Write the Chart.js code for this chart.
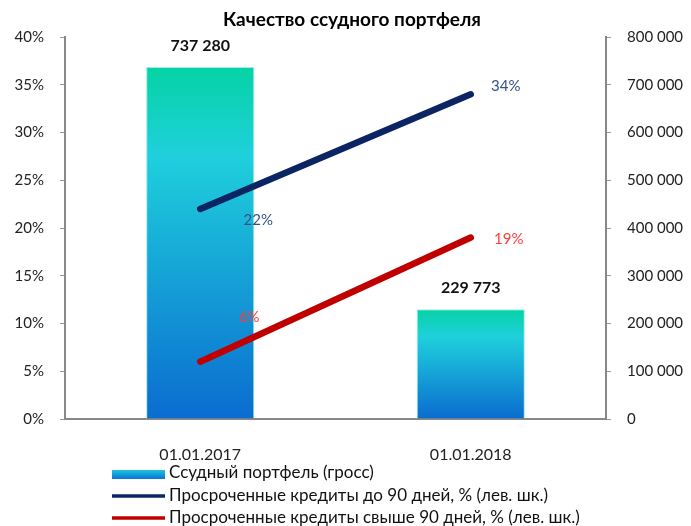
<!DOCTYPE html>
<html>
<head>
<meta charset="utf-8">
<script src="https://cdn.jsdelivr.net/npm/chart.js@4.4.1/dist/chart.umd.min.js"></script>
<style>
  body { margin: 0; background: #fff; }
  #wrap { width: 691px; height: 526px; }
</style>
</head>
<body>
<div id="wrap"><canvas id="chart"></canvas></div>
<script>
const categories = ['01.01.2017', '01.01.2018'];
const portfolio = [737280, 229773];
const overdueTo90 = [22, 34];
const overdueOver90 = [6, 19];
const seriesNames = [
    'Ссудный портфель (гросс)',
    'Просроченные кредиты до 90 дней, % (лев. шк.)',
    'Просроченные кредиты свыше 90 дней, % (лев. шк.)'
];
const leftTicks = [0, 5, 10, 15, 20, 25, 30, 35, 40];
const rightTicks = [0, 100000, 200000, 300000, 400000, 500000, 600000, 700000, 800000];

const FONT = 'Lato, "Open Sans", sans-serif';
const NAVY = '#0b2462';
const RED = '#c00000';

function fmtThousands(v) {
    return String(v).replace(/\B(?=(\d{3})+(?!\d))/g, ' ');
}

function barFill(context) {
    const chart = context.chart;
    if (!chart.chartArea || context.dataIndex === undefined) return '#1ccbdf';
    const y2 = chart.scales.y2;
    const top = y2.getPixelForValue(portfolio[context.dataIndex]);
    const bottom = y2.getPixelForValue(0);
    const g = chart.ctx.createLinearGradient(0, top, 0, bottom);
    g.addColorStop(0, '#05d3a4');
    g.addColorStop(0.25, '#1fd0dc');
    g.addColorStop(1, '#0a6cd0');
    return g;
}

// offsets of the value labels next to line points, as Excel placed them
const lineLabelOffsets = [
    [[58, 11], [35, -8]],
    [[49, -45], [38, 2]]
];

const labelsPlugin = {
    id: 'labels',
    afterDatasetsDraw(chart) {
        const ctx = chart.ctx;
        ctx.save();
        ctx.textAlign = 'center';
        ctx.textBaseline = 'middle';

        // bar values
        ctx.font = 'bold 16px ' + FONT;
        ctx.fillStyle = '#111';
        chart.getDatasetMeta(0).data.forEach((bar, i) => {
            ctx.fillText(fmtThousands(portfolio[i]), bar.x, bar.y - 21);
        });

        // line values
        ctx.font = '15px ' + FONT;
        [[1, overdueTo90, '#34508c'], [2, overdueOver90, '#ff3b3b']].forEach(([di, vals, col], k) => {
            ctx.fillStyle = col;
            chart.getDatasetMeta(di).data.forEach((pt, i) => {
                const off = lineLabelOffsets[k][i];
                ctx.fillText(vals[i] + '%', pt.x + off[0], pt.y + off[1]);
            });
        });
        ctx.restore();
    },
    afterDraw(chart) {
        const ctx = chart.ctx;
        ctx.save();
        // title
        ctx.font = 'bold 19px ' + FONT;
        ctx.fillStyle = '#000';
        ctx.textAlign = 'center';
        ctx.textBaseline = 'middle';
        ctx.fillText('Качество ссудного портфеля', 352, 20);

        // legend
        ctx.textAlign = 'left';
        ctx.font = '17px ' + FONT;
        const rows = [473, 496, 518];
        const x0 = 112, x1 = 165;
        const g = ctx.createLinearGradient(0, rows[0] - 4, 0, rows[0] + 5);
        g.addColorStop(0, '#1fd0dc');
        g.addColorStop(1, '#0a7ad6');
        ctx.fillStyle = g;
        ctx.fillRect(x0, rows[0] - 3, x1 - x0, 9);
        ctx.lineWidth = 3.5;
        ctx.strokeStyle = NAVY;
        ctx.beginPath(); ctx.moveTo(x0, rows[1]); ctx.lineTo(x1, rows[1]); ctx.stroke();
        ctx.strokeStyle = RED;
        ctx.beginPath(); ctx.moveTo(x0, rows[2]); ctx.lineTo(x1, rows[2]); ctx.stroke();
        ctx.fillStyle = '#111';
        seriesNames.forEach((name, i) => ctx.fillText(name, 169, rows[i]));
        ctx.restore();
    }
};

new Chart(document.getElementById('chart'), {
    type: 'bar',
    data: {
        labels: categories,
        datasets: [{
            label: seriesNames[0],
            data: portfolio,
            yAxisID: 'y2',
            backgroundColor: barFill,
            borderColor: 'rgba(150, 235, 225, 0.9)',
            borderWidth: 1,
            barPercentage: 0.4,
            categoryPercentage: 1,
            order: 2
        }, {
            type: 'line',
            label: seriesNames[1],
            data: overdueTo90,
            yAxisID: 'y',
            borderColor: NAVY,
            borderWidth: 6.5,
            borderCapStyle: 'round',
            pointRadius: 0,
            order: 1
        }, {
            type: 'line',
            label: seriesNames[2],
            data: overdueOver90,
            yAxisID: 'y',
            borderColor: RED,
            borderWidth: 6.5,
            borderCapStyle: 'round',
            pointRadius: 0,
            order: 1
        }]
    },
    options: {
        responsive: true,
        maintainAspectRatio: false,
        animation: false,
        layout: { padding: { top: 37, left: 0, right: 0, bottom: 0 } },
        scales: {
            x: {
                grid: { display: false },
                border: { display: true, color: '#888', width: 2 },
                ticks: { color: '#222', font: { family: FONT, size: 16 }, padding: 18 },
                afterFit(scale) { scale.height = 107; }
            },
            y: {
                position: 'left',
                min: 0,
                max: 40,
                afterBuildTicks(scale) { scale.ticks = leftTicks.map(v => ({ value: v })); },
                grid: { drawOnChartArea: false, color: '#999', tickLength: 5 },
                border: { display: true, color: '#888', width: 2 },
                ticks: {
                    color: '#222',
                    font: { family: FONT, size: 15 },
                    padding: 16,
                    callback: v => v + '%'
                },
                afterFit(scale) { scale.width = 65; }
            },
            y2: {
                position: 'right',
                min: 0,
                max: 800000,
                afterBuildTicks(scale) { scale.ticks = rightTicks.map(v => ({ value: v })); },
                grid: { drawOnChartArea: false, color: '#999', tickLength: 5 },
                border: { display: true, color: '#888', width: 2 },
                ticks: {
                    color: '#222',
                    font: { family: FONT, size: 15 },
                    padding: 16,
                    callback: v => fmtThousands(v)
                },
                afterFit(scale) { scale.width = 85; }
            }
        },
        plugins: {
            legend: { display: false },
            title: { display: false },
            tooltip: { enabled: false }
        }
    },
    plugins: [labelsPlugin]
});
</script>
</body>
</html>
